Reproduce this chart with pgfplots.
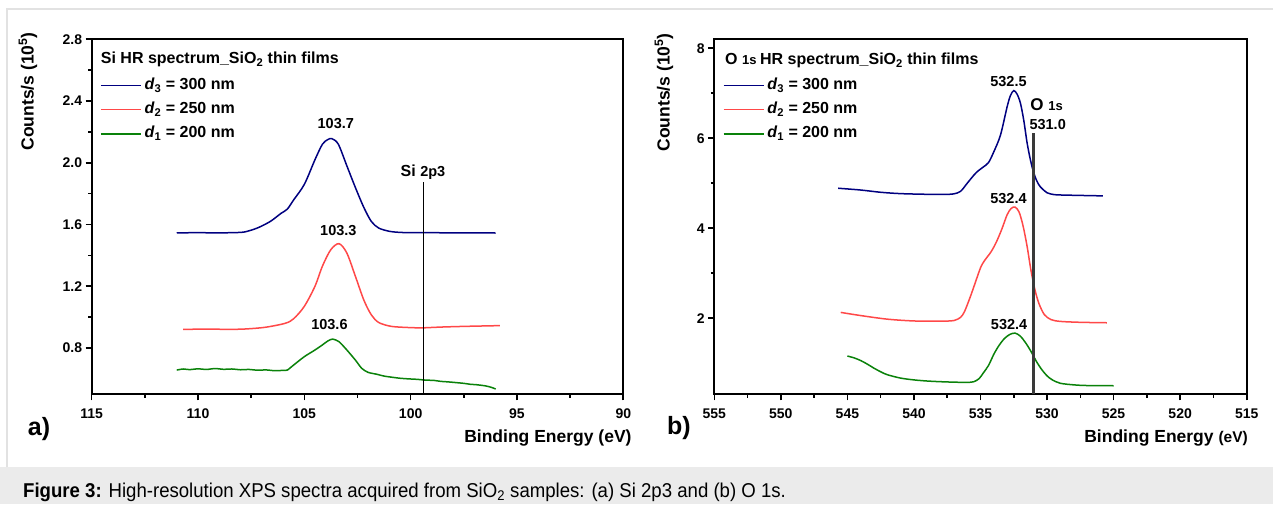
\documentclass[border=0pt]{standalone}
\usepackage{fontspec}
\setmainfont{Liberation Sans}
\newfontfamily\capfont[FakeStretch=0.93]{Liberation Sans}
\usepackage{pgfplots}
\pgfplotsset{compat=1.18}

\definecolor{cnavy}{HTML}{000080}
\definecolor{cred}{HTML}{FF4848}
\definecolor{cgreen}{HTML}{0A820A}
\definecolor{capbg}{HTML}{EBEBEB}
\definecolor{framegray}{HTML}{E2E2E2}
\definecolor{refgray}{HTML}{3A3A3A}

\newcommand{\fs}[1]{\fontsize{#1}{#1}\selectfont}

\pgfplotsset{
  legend image code/.code={\draw[#1] (0pt,0pt) -- (40pt,0pt);},
  xps/.style={
    scale only axis,
    height=355pt,
    axis line style={line width=2.2pt},
    tick align=outside,
    xtick pos=lower, ytick pos=left,
    major tick length=6pt, minor tick length=3.5pt,
    every tick/.style={black, line width=1.6pt},
    minor x tick num=1, minor y tick num=1,
    tick label style={font=\fs{14}\bfseries},
    xticklabel style={yshift=-5pt},
    /pgf/number format/assume math mode=true,
    x dir=reverse,
    legend style={draw=none, fill=none, at={(rel axis cs:0,1)}, anchor=north west,
      xshift=8.3pt, yshift=-38pt, inner sep=0pt, row sep=8.2pt, column sep=3pt,
      font=\fs{16}\bfseries,
      nodes={inner sep=0pt, text height=12pt, text depth=4pt}},
    legend cell align=left,
  },
}

\begin{document}
\begin{tikzpicture}[x=1pt, y=1pt]
\path[use as bounding box, fill=white] (0,0) rectangle (1273,504);
% figure frame and caption band
\fill[capbg] (0,0) rectangle (1273,37);
\draw[framegray, line width=1.5pt] (7,37) -- (7,495) -- (1273,495);
\node[anchor=base west, inner sep=0pt] at (23,6.3)
  {\capfont\fs{20}\textbf{Figure 3:} High-resolution XPS spectra acquired from SiO\textsubscript{2} samples: (a) Si 2p3 and (b) O 1s.};

% ---------------- (a) Si 2p3 ----------------
\begin{axis}[xps, at={(91.7pt,109.7pt)}, anchor=south west, width=531.6pt,
  xmin=90, xmax=115, ymin=0.5, ymax=2.8,
  xtick={90,95,...,115}, ytick={0.8,1.2,...,2.8},
  yticklabel style={/pgf/number format/.cd, fixed, fixed zerofill, precision=1}]
\addplot[cnavy, line width=1.5pt, no markers, smooth, tension=0.5] coordinates {
(111.0,1.546) (110.0,1.547) (109.0,1.546) (108.2,1.548) (107.8,1.552) (107.2,1.578)
(106.6,1.620) (106.1,1.672) (105.8,1.700) (105.5,1.760) (105.0,1.860) (104.5,2.020)
(104.15,2.120) (103.9,2.150) (103.7,2.156) (103.4,2.120) (103.0,1.980) (102.6,1.840)
(102.2,1.710) (101.85,1.620) (101.5,1.577) (101.0,1.556) (100.5,1.549) (100.0,1.547)
(99.0,1.547) (98.0,1.546) (97.0,1.546) (96.0,1.545)};
\addlegendentry{\textit{d}\textsubscript{3} = 300 nm}
\addplot[cred, line width=1.5pt, no markers, smooth, tension=0.5] coordinates {
(110.7,0.921) (109.5,0.922) (108.5,0.921) (107.8,0.923) (106.85,0.934) (105.9,0.960)
(105.5,0.990) (105.0,1.070) (104.5,1.200) (104.15,1.330) (103.76,1.436) (103.37,1.476)
(103.0,1.415) (102.6,1.265) (102.2,1.110) (101.85,1.015) (101.5,0.965) (100.9,0.940)
(100.0,0.932) (99.55,0.930) (98.5,0.936) (97.5,0.940) (96.5,0.943) (95.8,0.945)};
\addlegendentry{\textit{d}\textsubscript{2} = 250 nm}
\addplot[cgreen, line width=1.5pt, no markers, smooth, tension=0.4] coordinates {
(111.0,0.657) (110.7,0.664) (110.4,0.660) (110.0,0.665) (109.6,0.661) (109.2,0.667)
(108.8,0.662) (108.4,0.664) (108.0,0.659) (107.6,0.661) (107.2,0.656) (106.8,0.658)
(106.4,0.653) (106.0,0.655) (105.8,0.657) (105.5,0.690) (105.0,0.744) (104.5,0.787)
(104.15,0.820) (103.9,0.845) (103.67,0.858) (103.37,0.841) (103.0,0.787) (102.6,0.722)
(102.3,0.668) (102.0,0.642) (101.6,0.630) (101.25,0.618) (100.9,0.611) (100.5,0.604)
(100.1,0.600) (99.7,0.597) (99.3,0.592) (98.9,0.590) (98.6,0.584) (98.2,0.580)
(97.8,0.575) (97.5,0.571) (97.2,0.565) (96.9,0.562) (96.5,0.555) (96.2,0.545) (96.0,0.534)};
\addlegendentry{\textit{d}\textsubscript{1} = 200 nm}
% Si 2p3 reference position
\addplot[forget plot, black, line width=1.3pt] coordinates {(99.4,0.5) (99.4,1.877)};
\node[anchor=base, inner sep=0pt, font=\bfseries] at (axis cs:99.42,1.910) {\fs{16}Si \fs{14.5}2p3};
\node[anchor=base, inner sep=0pt, font=\fs{14.5}\bfseries] at (axis cs:103.52,2.223) {103.7};
\node[anchor=base, inner sep=0pt, font=\fs{14.5}\bfseries] at (axis cs:103.40,1.532) {103.3};
\node[anchor=base, inner sep=0pt, font=\fs{14.5}\bfseries] at (axis cs:103.82,0.917) {103.6};
\end{axis}
\node[anchor=base west, inner sep=0pt, font=\fs{16}\bfseries] at (100.7,440)
  {Si HR spectrum\_SiO\textsubscript{2} thin films};
\node[anchor=base east, inner sep=0pt, font=\fs{17.5}\bfseries] at (631.7,62) {Binding Energy (eV)};
\node[rotate=90, anchor=base east, inner sep=0pt, font=\fs{17.5}\bfseries] at (33.5,472)
  {Counts/s (10\textsuperscript{5})};
\node[inner sep=0pt, font=\fs{25}\bfseries] at (39,75) {a)};

% ---------------- (b) O 1s ----------------
\begin{axis}[xps, at={(714.3pt,109.7pt)}, anchor=south west, width=532.4pt,
  xmin=515, xmax=555, ymin=0.31, ymax=8.2,
  xtick={515,520,...,555}, ytick={2,4,6,8}]
\addplot[cnavy, line width=1.5pt, no markers, smooth, tension=0.5] coordinates {
(545.7,4.89) (544.0,4.85) (542.5,4.80) (541.0,4.77) (539.0,4.755) (537.5,4.755)
(537.0,4.765) (536.5,4.82) (536.0,5.00) (535.5,5.18) (535.2,5.27) (534.8,5.36)
(534.4,5.46) (534.0,5.70) (533.5,6.07) (533.0,6.70) (532.75,6.95) (532.5,7.06)
(532.25,6.98) (532.0,6.78) (531.75,6.40) (531.5,5.90) (531.25,5.52) (531.0,5.23)
(530.75,5.04) (530.5,4.92) (530.0,4.79) (529.5,4.75) (529.0,4.74) (527.5,4.73) (525.8,4.72)};
\addlegendentry{\textit{d}\textsubscript{3} = 300 nm}
\addplot[cred, line width=1.5pt, no markers, smooth, tension=0.5] coordinates {
(545.5,2.13) (544.0,2.06) (542.0,1.98) (540.0,1.94) (538.0,1.935) (537.0,1.95)
(536.5,2.02) (536.2,2.15) (535.8,2.45) (535.5,2.70) (535.0,3.12) (534.7,3.28)
(534.2,3.48) (533.8,3.70) (533.4,3.98) (533.0,4.30) (532.7,4.44) (532.4,4.47)
(532.1,4.36) (531.8,4.05) (531.5,3.60) (531.2,3.05) (530.9,2.62) (530.6,2.32)
(530.2,2.08) (529.7,1.97) (529.0,1.93) (527.5,1.91) (525.5,1.90)};
\addlegendentry{\textit{d}\textsubscript{2} = 250 nm}
\addplot[cgreen, line width=1.5pt, no markers, smooth, tension=0.5] coordinates {
(545.0,1.16) (544.5,1.12) (544.0,1.06) (543.5,0.98) (543.0,0.89) (542.5,0.81)
(542.0,0.745) (541.0,0.67) (540.0,0.63) (539.0,0.605) (538.0,0.59) (537.0,0.58)
(536.0,0.575) (535.5,0.59) (535.1,0.66) (534.8,0.78) (534.4,0.95) (534.0,1.20)
(533.6,1.40) (533.2,1.55) (532.8,1.64) (532.4,1.67) (532.0,1.60) (531.6,1.45)
(531.2,1.26) (530.8,1.04) (530.4,0.86) (530.0,0.72) (529.6,0.63) (529.0,0.555)
(528.0,0.52) (527.0,0.505) (525.0,0.50)};
\addlegendentry{\textit{d}\textsubscript{1} = 200 nm}
% O 1s reference position
\addplot[forget plot, refgray, line width=2.6pt] coordinates {(531.0,0.31) (531.0,6.12)};
\node[anchor=base west, inner sep=0pt, font=\bfseries] at (axis cs:531.27,6.607) {\fs{17}O \fs{13}1s};
\node[anchor=base west, inner sep=0pt, font=\fs{14.5}\bfseries] at (axis cs:531.33,6.185) {531.0};
\node[anchor=base, inner sep=0pt, font=\fs{14.5}\bfseries] at (axis cs:532.9,7.147) {532.5};
\node[anchor=base, inner sep=0pt, font=\fs{14.5}\bfseries] at (axis cs:532.9,4.556) {532.4};
\node[anchor=base, inner sep=0pt, font=\fs{14.5}\bfseries] at (axis cs:532.85,1.74) {532.4};
\end{axis}
\node[anchor=base west, inner sep=0pt, font=\bfseries] at (725,439)
  {\fs{16}O \fs{13}1s \fs{16}HR spectrum\_SiO\textsubscript{2} thin films};
\node[anchor=base east, inner sep=0pt, font=\bfseries] at (1248,62) {\fs{17.5}Binding Energy \fs{15.5}(eV)};
\node[rotate=90, anchor=base east, inner sep=0pt, font=\fs{17.5}\bfseries] at (669.5,471)
  {Counts/s (10\textsuperscript{5})};
\node[inner sep=0pt, font=\fs{25}\bfseries] at (679,76) {b)};
\end{tikzpicture}
\end{document}
